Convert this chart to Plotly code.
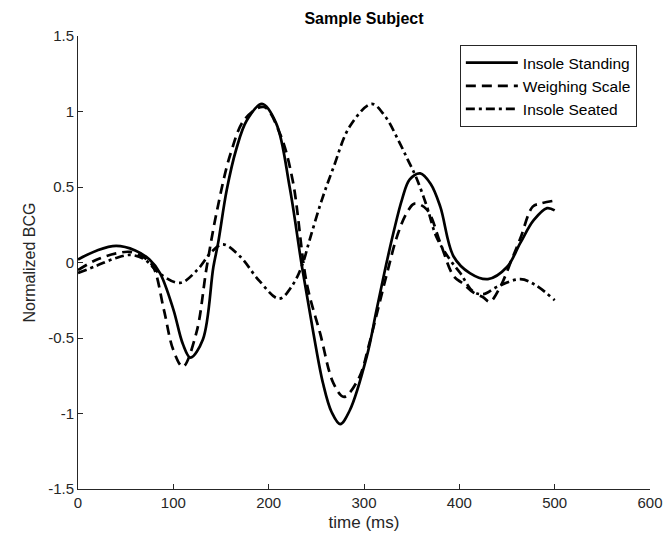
import plotly.graph_objects as go

# time (ms) / normalized BCG
standing_t = [0, 20, 40, 60, 75, 86, 100, 110, 118, 131, 142, 147, 156, 166, 177, 193, 208, 222, 235,
              247, 257, 266, 275, 285, 303, 313, 322, 331, 340, 348, 359, 370, 380, 394, 411, 430, 450,
              464, 478, 492, 500]
standing_v = [0.02, 0.08, 0.11, 0.08, 0.02, -0.07, -0.31, -0.54, -0.63, -0.51, -0.03, 0.13, 0.48, 0.75, 0.94, 1.05, 0.92, 0.50, -0.03,
              -0.47, -0.80, -0.99, -1.07, -0.98, -0.62, -0.32, -0.05, 0.20, 0.42, 0.55, 0.59, 0.52, 0.37, 0.04, -0.07, -0.11, -0.03,
              0.13, 0.28, 0.36, 0.345]

scale_t = [0, 20, 40, 55, 70, 79, 90, 100, 110, 124, 135, 146, 160, 175, 195, 212, 225, 240, 254, 268,
           279, 295, 305, 315, 325, 335, 345, 353, 366, 380, 394, 404, 415, 425, 432, 443, 455, 464, 477, 485, 500]
scale_v = [-0.05, 0.02, 0.06, 0.07, 0.03, -0.03, -0.31, -0.58, -0.69, -0.47, -0.03, 0.35, 0.72, 0.95, 1.03, 0.85, 0.55, -0.14, -0.47, -0.80,
           -0.89, -0.76, -0.55, -0.30, -0.05, 0.18, 0.33, 0.39, 0.35, 0.13, -0.09, -0.14, -0.20, -0.23, -0.26, -0.16, 0.02, 0.16, 0.37, 0.39, 0.41]

seated_t = [0, 20, 40, 55, 70, 85, 107, 125, 140, 152, 170, 190, 211, 225, 235, 243, 255, 268, 285, 308,
            322, 336, 346, 355, 366, 376, 390, 401, 414, 425, 440, 464, 480, 500]
seated_v = [-0.07, -0.02, 0.03, 0.05, 0.02, -0.07, -0.135, -0.05, 0.07, 0.12, 0.04, -0.12, -0.24, -0.15, -0.02, 0.15, 0.40, 0.63, 0.90, 1.05,
            0.97, 0.81, 0.68, 0.56, 0.37, 0.17, 0.02, -0.07, -0.19, -0.21, -0.16, -0.11, -0.15, -0.25]

x_ticks = [0, 100, 200, 300, 400, 500, 600]
y_ticks = [-1.5, -1, -0.5, 0, 0.5, 1, 1.5]
y_tick_labels = ["-1.5", "-1", "-0.5", "0", "0.5", "1", "1.5"]

FONT = "Liberation Sans, Arial, sans-serif"
AXIS_COLOR = "#262626"

fig = go.Figure()
fig.add_trace(go.Scatter(x=standing_t, y=standing_v, mode="lines", name="Insole Standing", legendgroup="a",
                         line=dict(color="black", width=2.7, shape="spline", smoothing=1)))
fig.add_trace(go.Scatter(x=scale_t, y=scale_v, mode="lines", name="Weighing Scale", legendgroup="b",
                         line=dict(color="black", width=2.7, dash="10px,6px", shape="spline", smoothing=1)))
fig.add_trace(go.Scatter(x=seated_t, y=seated_v, mode="lines", name="Insole Seated", legendgroup="c",
                         line=dict(color="black", width=2.7, dash="9px,4px,3px,4px", shape="spline", smoothing=1)))

axis_common = dict(
    showline=True, linecolor=AXIS_COLOR, linewidth=1, mirror=False, automargin=False,
    ticks="inside", ticklen=5, tickcolor=AXIS_COLOR, showgrid=False, zeroline=False,
    tickfont=dict(family=FONT, size=15, color=AXIS_COLOR),
)

fig.update_layout(
    width=664, height=541,
    margin=dict(l=78, r=14, t=36, b=52),
    paper_bgcolor="white", plot_bgcolor="white",
    title=dict(text="<b>Sample Subject</b>", x=364 / 664, xanchor="center",
               y=1 - 18 / 541, yanchor="middle", font=dict(family=FONT, size=16, color="black")),
    xaxis=dict(range=[0, 600], tickvals=x_ticks,
               title=dict(text="time (ms)", standoff=6, font=dict(family=FONT, size=17, color=AXIS_COLOR)),
               **axis_common),
    yaxis=dict(range=[-1.5, 1.5], tickvals=y_ticks, ticktext=y_tick_labels,
               title=dict(text="Normalized BCG", standoff=8, font=dict(family=FONT, size=16, color=AXIS_COLOR)),
               **axis_common),
    legend=dict(x=0.977, y=0.98, xanchor="right", yanchor="top",
                bgcolor="white", bordercolor="#262626", borderwidth=1,
                font=dict(family=FONT, size=15.5, color="black"),
                itemwidth=52, tracegroupgap=0),
    showlegend=True,
)

# drop the default body margin so the figure fills the window exactly
fig.write_html("out.html", config={"displayModeBar": False},
               post_script="document.body.style.margin='0';")
